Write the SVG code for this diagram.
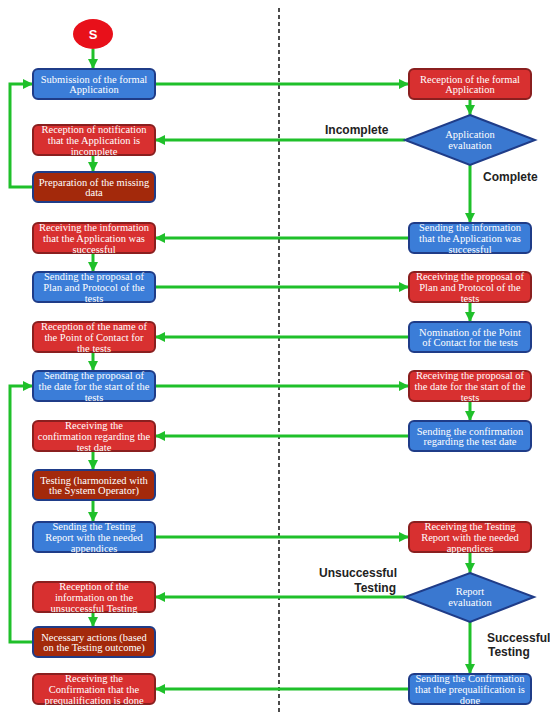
<svg xmlns="http://www.w3.org/2000/svg" width="550" height="714" viewBox="0 0 550 714">
<defs>
<marker id="ah" markerUnits="userSpaceOnUse" markerWidth="11" markerHeight="11" refX="10" refY="5" orient="auto">
<path d="M0,0 L10,5 L0,10 z" fill="#1fc02a"/>
</marker>
<style>
.blue{fill:#3b7dd8;stroke:#1f3c88;stroke-width:2}
.red{fill:#d83030;stroke:#8a1f1f;stroke-width:2}
.brown{fill:#a3290b;stroke:#1f3c88;stroke-width:2}
.dia{fill:#3a78d0;stroke:#1f3c88;stroke-width:2}
.t{font-family:"Liberation Serif","Times New Roman",serif;font-size:10.5px;fill:#fff;text-anchor:middle}
.lbl{font-family:"Liberation Sans",Arial,sans-serif;font-size:12px;font-weight:bold;fill:#222}
.c{fill:none;stroke:#1fc02a;stroke-width:3}
.a{marker-end:url(#ah)}
</style>
</defs>
<rect width="550" height="714" fill="#fff"/>
<line x1="279" y1="8" x2="279" y2="714" stroke="#111" stroke-width="1.5" stroke-dasharray="4,3"/>

<g id="connectors">
<path class="c a" d="M93,49 V69"/>
<path class="c a" d="M155,84 H409"/>
<path class="c a" d="M470,99 V115"/>
<path class="c a" d="M405,140 H155"/>
<path class="c a" d="M93,155 V172"/>
<path class="c a" d="M33,187 H10 V84 H33"/>
<path class="c a" d="M470,165 V223"/>
<path class="c a" d="M409,238 H155"/>
<path class="c a" d="M93,253 V272"/>
<path class="c a" d="M155,287 H409"/>
<path class="c a" d="M470,302 V322"/>
<path class="c a" d="M409,337 H155"/>
<path class="c a" d="M93,352 V371"/>
<path class="c a" d="M155,386 H409"/>
<path class="c a" d="M470,401 V421"/>
<path class="c a" d="M409,436 H155"/>
<path class="c a" d="M93,451 V470"/>
<path class="c a" d="M93,500 V522"/>
<path class="c a" d="M155,537 H409"/>
<path class="c a" d="M470,552 V573"/>
<path class="c a" d="M405,597 H155"/>
<path class="c a" d="M93,612 V627"/>
<path class="c a" d="M33,642 H10 V386 H33"/>
<path class="c a" d="M470,622 V674"/>
<path class="c a" d="M409,689 H155"/>
<text class="lbl" x="325" y="134">Incomplete</text>
<text class="lbl" x="483" y="181">Complete</text>
<text class="lbl" x="397" y="577" text-anchor="end">Unsuccessful</text>
<text class="lbl" x="396" y="592" text-anchor="end">Testing</text>
<text class="lbl" x="487" y="642">Successful</text>
<text class="lbl" x="488" y="656">Testing</text>
</g>

<g id="start">
<ellipse cx="93" cy="34" rx="20" ry="15" fill="#e8101a"/>
<text x="93" y="39" font-family="Liberation Sans,Arial,sans-serif" font-size="13" font-weight="bold" fill="#fff" text-anchor="middle">S</text>
</g>

<g id="n1"><rect class="blue" x="33" y="69" width="122" height="30" rx="5"/>
<text class="t" x="94" y="82.5">Submission of the formal</text><text class="t" x="94" y="93">Application</text></g>
<g id="n2"><rect class="red" x="409" y="69" width="122" height="30" rx="5"/>
<text class="t" x="470" y="82.5">Reception of the formal</text><text class="t" x="470" y="93">Application</text></g>
<g id="n3"><polygon class="dia" points="470,115 535,140 470,165 405,140"/>
<text class="t" x="470" y="138">Application</text><text class="t" x="470" y="149">evaluation</text></g>
<g id="n4"><rect class="red" x="33" y="125" width="122" height="30" rx="5"/>
<text class="t" x="94" y="133">Reception of notification</text><text class="t" x="94" y="144">that the Application is</text><text class="t" x="94" y="155">incomplete</text></g>
<g id="n5"><rect class="brown" x="33" y="172" width="122" height="30" rx="5"/>
<text class="t" x="94" y="185.5">Preparation of the missing</text><text class="t" x="94" y="196">data</text></g>
<g id="n6"><rect class="blue" x="409" y="223" width="122" height="30" rx="5"/>
<text class="t" x="470" y="231">Sending the information</text><text class="t" x="470" y="242">that the Application was</text><text class="t" x="470" y="253">successful</text></g>
<g id="n7"><rect class="red" x="33" y="223" width="122" height="30" rx="5"/>
<text class="t" x="94" y="231">Receiving the information</text><text class="t" x="94" y="242">that the Application was</text><text class="t" x="94" y="253">successful</text></g>
<g id="n8"><rect class="blue" x="33" y="272" width="122" height="30" rx="5"/>
<text class="t" x="94" y="280">Sending the proposal of</text><text class="t" x="94" y="291">Plan and Protocol of the</text><text class="t" x="94" y="302">tests</text></g>
<g id="n9"><rect class="red" x="409" y="272" width="122" height="30" rx="5"/>
<text class="t" x="470" y="280">Receiving the proposal of</text><text class="t" x="470" y="291">Plan and Protocol of the</text><text class="t" x="470" y="302">tests</text></g>
<g id="n10"><rect class="blue" x="409" y="322" width="122" height="30" rx="5"/>
<text class="t" x="470" y="335.5">Nomination of the Point</text><text class="t" x="470" y="346">of Contact for the tests</text></g>
<g id="n11"><rect class="red" x="33" y="322" width="122" height="30" rx="5"/>
<text class="t" x="94" y="330">Reception of the name of</text><text class="t" x="94" y="341">the Point of Contact for</text><text class="t" x="94" y="352">the tests</text></g>
<g id="n12"><rect class="blue" x="33" y="371" width="122" height="30" rx="5"/>
<text class="t" x="94" y="379">Sending the proposal of</text><text class="t" x="94" y="390">the date for the start of the</text><text class="t" x="94" y="401">tests</text></g>
<g id="n13"><rect class="red" x="409" y="371" width="122" height="30" rx="5"/>
<text class="t" x="470" y="379">Receiving the proposal of</text><text class="t" x="470" y="390">the date for the start of the</text><text class="t" x="470" y="401">tests</text></g>
<g id="n14"><rect class="blue" x="409" y="421" width="122" height="30" rx="5"/>
<text class="t" x="470" y="434.5">Sending the confirmation</text><text class="t" x="470" y="445">regarding the test date</text></g>
<g id="n15"><rect class="red" x="33" y="421" width="122" height="30" rx="5"/>
<text class="t" x="94" y="429">Receiving the</text><text class="t" x="94" y="440">confirmation regarding the</text><text class="t" x="94" y="451">test date</text></g>
<g id="n16"><rect class="brown" x="33" y="470" width="122" height="30" rx="5"/>
<text class="t" x="94" y="483.5">Testing (harmonized with</text><text class="t" x="94" y="494">the System Operator)</text></g>
<g id="n17"><rect class="blue" x="33" y="522" width="122" height="30" rx="5"/>
<text class="t" x="94" y="530">Sending the Testing</text><text class="t" x="94" y="541">Report with the needed</text><text class="t" x="94" y="552">appendices</text></g>
<g id="n18"><rect class="red" x="409" y="522" width="122" height="30" rx="5"/>
<text class="t" x="470" y="530">Receiving the Testing</text><text class="t" x="470" y="541">Report with the needed</text><text class="t" x="470" y="552">appendices</text></g>
<g id="n19"><polygon class="dia" points="470,573 534,597 470,622 405,597"/>
<text class="t" x="470" y="595">Report</text><text class="t" x="470" y="606">evaluation</text></g>
<g id="n20"><rect class="red" x="33" y="582" width="122" height="30" rx="5"/>
<text class="t" x="94" y="590">Reception of the</text><text class="t" x="94" y="601">information on the</text><text class="t" x="94" y="612">unsuccessful Testing</text></g>
<g id="n21"><rect class="brown" x="33" y="627" width="122" height="30" rx="5"/>
<text class="t" x="94" y="640.5">Necessary actions (based</text><text class="t" x="94" y="651">on the Testing outcome)</text></g>
<g id="n22"><rect class="blue" x="409" y="674" width="122" height="30" rx="5"/>
<text class="t" x="470" y="682">Sending the Confirmation</text><text class="t" x="470" y="693">that the prequalification is</text><text class="t" x="470" y="704">done</text></g>
<g id="n23"><rect class="red" x="33" y="674" width="122" height="30" rx="5"/>
<text class="t" x="94" y="682">Receiving the</text><text class="t" x="94" y="693">Confirmation that the</text><text class="t" x="94" y="704">prequalification is done</text></g>
</svg>
